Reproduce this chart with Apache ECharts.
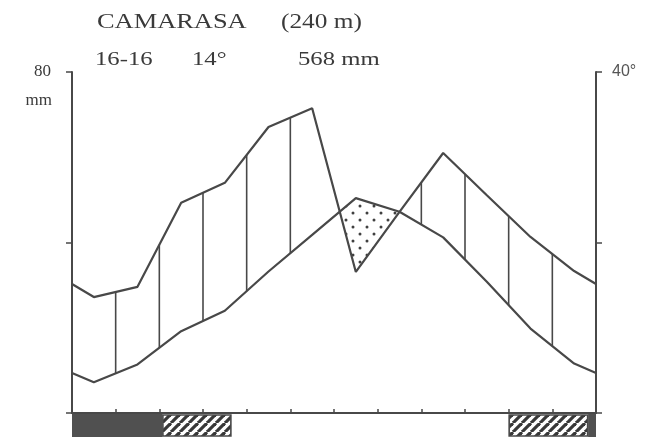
<!DOCTYPE html>
<html>
<head>
<meta charset="utf-8">
<script src="https://cdn.jsdelivr.net/npm/echarts@6/dist/echarts.min.js"></script>
<style>
  html, body { margin: 0; padding: 0; background: #fff; }
  #chart { width: 649px; height: 439px; }
</style>
</head>
<body>
<div id="chart"></div>
<script>
// Climate diagram (Walter-Lieth) for Camarasa, 240 m
const months = ['Jan', 'Feb', 'Mar', 'Apr', 'May', 'Jun', 'Jul', 'Aug', 'Sep', 'Oct', 'Nov', 'Dec'];
const precipitation = [27.2, 29.6, 49.3, 54.0, 67.1, 71.5, 33.1, 47.2, 61.0, 51.1, 41.3, 33.3]; // mm
const temperature = [3.6, 5.7, 9.6, 12.0, 16.6, 20.9, 25.2, 23.6, 20.6, 15.4, 9.9, 5.8];       // °C
// month boundaries that carry a vertical hatch line in the humid season
const humidHatchBoundaries = [1, 2, 3, 4, 5, 8, 9, 10, 11];
// frost bands below the time axis, in months from 1 January
const frostCertain = [[0, 2.07], [11.82, 12]];
const frostPossible = [[2.07, 3.65], [10.0, 11.82]];
const stationName = 'CAMARASA';
const stationAltitude = '(240 m)';
const stationYears = '16-16';
const meanTemp = '14°';
const annualPrecip = '568 mm';
const leftTicks = { max: 80, step: 40, unit: 'mm' };
const rightTicks = { max: 40, step: 20 };

const INK = '#484848';
const TEXT = '#3a3a3a';

// Curve points: month midpoints, closed at both ends with the Dec/Jan mean
function curve(values) {
  const edge = (values[0] + values[11]) / 2;
  const pts = [[0, edge]];
  values.forEach((v, i) => pts.push([i + 0.5, v]));
  pts.push([12, edge]);
  return pts;
}
const precipPts = curve(precipitation);
const tempPts = curve(temperature);
const tempMm = tempPts.map(p => [p[0], p[1] * 2]); // 10 °C = 20 mm

function valueAt(pts, x) {
  for (let i = 0; i < pts.length - 1; i++) {
    const a = pts[i], b = pts[i + 1];
    if (x >= a[0] && x <= b[0]) {
      const f = (x - a[0]) / (b[0] - a[0]);
      return a[1] + f * (b[1] - a[1]);
    }
  }
  return pts[pts.length - 1][1];
}

// Arid region: where precipitation falls below the temperature curve
function aridPolygon() {
  const polys = [];
  let cur = null;
  for (let i = 0; i < precipPts.length - 1; i++) {
    const x0 = precipPts[i][0], x1 = precipPts[i + 1][0];
    const d0 = precipPts[i][1] - tempMm[i][1];
    const d1 = precipPts[i + 1][1] - tempMm[i + 1][1];
    if (d0 >= 0 && d1 < 0) {
      const xc = x0 + (x1 - x0) * d0 / (d0 - d1);
      cur = { top: [[xc, valueAt(tempMm, xc)]], bottom: [[xc, valueAt(precipPts, xc)]] };
    }
    if (cur && d1 < 0) {
      cur.top.push(tempMm[i + 1]);
      cur.bottom.push(precipPts[i + 1]);
    }
    if (cur && d0 < 0 && d1 >= 0) {
      const xc = x0 + (x1 - x0) * d0 / (d0 - d1);
      const pt = [xc, valueAt(precipPts, xc)];
      polys.push(cur.top.concat([pt], cur.bottom.slice().reverse()));
      cur = null;
    }
  }
  return polys;
}

function dotPattern() {
  const c = document.createElement('canvas');
  c.width = 14; c.height = 14;
  const g = c.getContext('2d');
  g.fillStyle = '#404040';
  [[3, 3], [10, 10]].forEach(([x, y]) => { g.beginPath(); g.arc(x, y, 1.5, 0, Math.PI * 2); g.fill(); });
  return c;
}
function stripePattern() {
  const s = 9;
  const c = document.createElement('canvas');
  c.width = s; c.height = s;
  const g = c.getContext('2d');
  g.strokeStyle = '#383838';
  g.lineWidth = 3.2;
  [-s, 0, s].forEach(ox => {
    g.beginPath(); g.moveTo(ox, s); g.lineTo(ox + s, 0); g.stroke();
  });
  return c;
}

const chart = echarts.init(document.getElementById('chart'), null, { renderer: 'canvas' });
const dots = dotPattern();
const stripes = stripePattern();

const frostData = frostCertain.map(r => [r[0], r[1], 0]).concat(frostPossible.map(r => [r[0], r[1], 1]));

const serif = 'Liberation Serif';

chart.setOption({
  animation: false,
  backgroundColor: '#ffffff',
  grid: { left: 72, right: 53, top: 72, bottom: 26, containLabel: false },
  xAxis: {
    type: 'value', min: 0, max: 12, interval: 1,
    axisLine: { show: true, lineStyle: { color: INK, width: 2 } },
    axisTick: { show: true, inside: true, length: 4, lineStyle: { color: INK, width: 1.5 } },
    axisLabel: { show: false },
    splitLine: { show: false }
  },
  yAxis: [
    {
      type: 'value', min: 0, max: leftTicks.max, interval: leftTicks.step, position: 'left',
      axisLine: { show: true, lineStyle: { color: INK, width: 2 } },
      axisTick: { show: true, length: 6, lineStyle: { color: INK, width: 1.5 } },
      axisLabel: {
        formatter: v => (v === leftTicks.max ? String(v) : ''),
        margin: 21, color: TEXT, fontFamily: serif, fontSize: 17
      },
      splitLine: { show: false }
    },
    {
      type: 'value', min: 0, max: rightTicks.max, interval: rightTicks.step, position: 'right',
      axisLine: { show: true, lineStyle: { color: INK, width: 2 } },
      axisTick: { show: true, length: 6, lineStyle: { color: INK, width: 1.5 } },
      axisLabel: {
        formatter: v => (v === rightTicks.max ? v + '°' : ''),
        margin: 16, color: '#555', fontFamily: 'Liberation Sans', fontSize: 16
      },
      splitLine: { show: false }
    }
  ],
  graphic: [
    { type: 'text', left: 97, top: 11, scaleX: 1.2, style: { text: stationName, font: '22px "Liberation Serif"', fill: TEXT } },
    { type: 'text', left: 281, top: 11, scaleX: 1.15, style: { text: stationAltitude, font: '22px "Liberation Serif"', fill: TEXT } },
    { type: 'text', left: 95, top: 51, scaleX: 1.3, style: { text: stationYears, font: '19px "Liberation Serif"', fill: TEXT } },
    { type: 'text', left: 192, top: 51, scaleX: 1.3, style: { text: meanTemp, font: '19px "Liberation Serif"', fill: TEXT } },
    { type: 'text', left: 298, top: 51, scaleX: 1.3, style: { text: annualPrecip, font: '19px "Liberation Serif"', fill: TEXT } },
    { type: 'text', right: 597, top: 92, style: { text: leftTicks.unit, font: '17px "Liberation Serif"', fill: TEXT } }
  ],
  series: [
    {
      // arid season, dotted
      type: 'custom', yAxisIndex: 0, z: 1, silent: true,
      data: [0],
      renderItem: (params, api) => ({
        type: 'group',
        children: aridPolygon().map(poly => ({
          type: 'polygon',
          shape: { points: poly.map(p => api.coord(p)) },
          style: { fill: { image: dots, repeat: 'repeat' }, stroke: null }
        }))
      })
    },
    {
      // humid season, vertical hatch lines
      type: 'custom', yAxisIndex: 0, z: 2, silent: true,
      data: humidHatchBoundaries.map(k => [k, valueAt(tempMm, k), valueAt(precipPts, k)]),
      renderItem: (params, api) => {
        const a = api.coord([api.value(0), api.value(1)]);
        const b = api.coord([api.value(0), api.value(2)]);
        return { type: 'line', shape: { x1: a[0], y1: a[1], x2: b[0], y2: b[1] }, style: { stroke: INK, lineWidth: 1.6 } };
      }
    },
    {
      name: 'Precipitation', type: 'line', yAxisIndex: 0, z: 3,
      data: precipPts, symbol: 'none',
      lineStyle: { color: INK, width: 2.2 }
    },
    {
      name: 'Temperature', type: 'line', yAxisIndex: 1, z: 3,
      data: tempPts, symbol: 'none',
      lineStyle: { color: INK, width: 2.2 }
    },
    {
      // frost bands under the time axis
      type: 'custom', yAxisIndex: 0, z: 4, silent: true, clip: false,
      data: frostData,
      renderItem: (params, api) => {
        const p0 = api.coord([api.value(0), 0]);
        const p1 = api.coord([api.value(1), 0]);
        const y = p0[1] + 1;
        const h = 23;
        if (api.value(2) === 0) {
          return { type: 'rect', shape: { x: p0[0], y: y, width: p1[0] - p0[0], height: h }, style: { fill: '#505050' } };
        }
        return {
          type: 'rect',
          shape: { x: p0[0] + 0.5, y: y + 1, width: p1[0] - p0[0] - 1, height: h - 2 },
          style: { fill: { image: stripes, repeat: 'repeat' }, stroke: INK, lineWidth: 1.6 }
        };
      }
    }
  ]
});
</script>
</body>
</html>
